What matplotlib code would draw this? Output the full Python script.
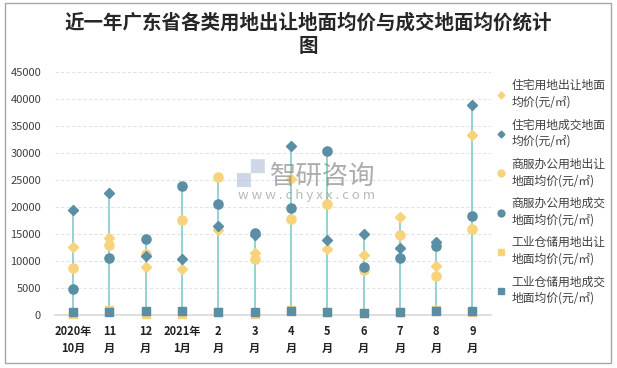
import matplotlib
matplotlib.use("Agg")
import matplotlib.pyplot as plt
from matplotlib.patches import Rectangle
import numpy as np

plt.rcParams['font.family'] = ['Noto Sans CJK SC', 'DejaVu Sans']

categories = ["2020年\n10月", "11\n月", "12\n月", "2021年\n1月", "2\n月", "3\n月",
              "4\n月", "5\n月", "6\n月", "7\n月", "8\n月", "9\n月"]
res_sale = [12600, 14400, 8900, 8600, 15800, 11600, 25200, 12300, 11200, 18200, 9100, 33400]
res_deal = [19500, 22700, 10900, 10400, 16600, 14800, 31400, 14000, 15100, 12500, 13600, 39000]
com_sale = [8800, 13000, 11300, 17600, 25600, 10400, 17800, 20600, 8300, 14800, 7200, 15900]
com_deal = [4800, 10700, 14100, 23900, 20700, 15200, 19800, 30400, 9000, 10600, 12900, 18300]
ind_sale = [300, 1000, 300, 300, 600, 200, 900, 700, 400, 600, 900, 600]
ind_deal = [700, 700, 750, 750, 600, 600, 750, 550, 500, 700, 750, 750]
labels = ["住宅用地出让地面\n均价(元/㎡)", "住宅用地成交地面\n均价(元/㎡)",
          "商服办公用地出让\n地面均价(元/㎡)", "商服办公用地成交\n地面均价(元/㎡)",
          "工业仓储用地出让\n地面均价(元/㎡)", "工业仓储用地成交\n地面均价(元/㎡)"]
yticks = [0, 5000, 10000, 15000, 20000, 25000, 30000, 35000, 40000, 45000]

YEL = "#F8D37B"
BLU = "#5A8EA4"
LINE = "#8DCFCF"

fig = plt.figure(figsize=(6.17, 3.68), dpi=100)
fig.patch.set_facecolor("white")
# outer border
fig.add_artist(Rectangle((5/617, 5/368), 606/617, 360/368, transform=fig.transFigure,
                         fill=False, edgecolor="#A6A6A6", linewidth=1.0))

ax = fig.add_axes([55/617, 1-315.3/368, 435.6/617, 243/368])
x = np.arange(len(categories))
allv = np.array([res_sale, res_deal, com_sale, com_deal, ind_sale, ind_deal])
ax.vlines(x, 0, allv.max(axis=0), color=LINE, linewidth=1.3, zorder=1)

ax.plot(x, ind_sale, ls="none", marker="s", ms=5.8, color=YEL, zorder=2, clip_on=False, label=labels[4])
ax.plot(x, ind_deal, ls="none", marker="s", ms=5.8, color=BLU, zorder=3, clip_on=False, label=labels[5])
ax.plot(x, com_sale, ls="none", marker="o", ms=6.6, color=YEL, zorder=4, label=labels[2])
ax.plot(x, com_deal, ls="none", marker="o", ms=6.6, color=BLU, zorder=5, label=labels[3])
ax.plot(x, res_sale, ls="none", marker="D", ms=4.6, color=YEL, zorder=6, label=labels[0])
ax.plot(x, res_deal, ls="none", marker="D", ms=4.6, color=BLU, zorder=7, label=labels[1])

ax.set_xlim(-0.5, len(categories) - 0.5)
ax.set_ylim(0, 45000)
ax.set_yticks(yticks)
ax.set_yticklabels([str(v) for v in yticks], fontsize=8, color="#404040")
ax.set_xticks(x)
ax.set_xticklabels(categories, fontsize=8, fontweight="bold", color="#222222", linespacing=1.4)
ax.tick_params(axis="both", length=0)
ax.tick_params(axis="y", pad=10)
ax.tick_params(axis="x", pad=7)
ax.grid(axis="y", color="#E3E3E3", linestyle=(0, (3, 2)), linewidth=0.8, zorder=0)
ax.set_axisbelow(True)
for s in ["top", "right", "left"]:
    ax.spines[s].set_visible(False)
ax.spines["bottom"].set_color("#D9D9D9")
ax.spines["bottom"].set_linewidth(1.2)

# watermark
fig.text(251/617, 1-176/368, "▞", fontsize=20, color="#B8C6DE", ha="center", va="center", alpha=0.7)
fig.text(323/617, 1-176/368, "智研咨询", fontsize=19, color="#8A8A8A", ha="center", va="center", alpha=0.7)
fig.text(307/617, 1-195/368, "w w w . c h y x x . c o m", fontsize=9.5, color="#9A9A9A",
         ha="center", va="center", alpha=0.7)

# title
fig.text(308/617, 1-23/368, "近一年广东省各类用地出让地面均价与成交地面均价统计", fontsize=14,
         ha="center", va="center", color="#262626", fontweight="bold")
fig.text(308/617, 1-46/368, "图", fontsize=14, ha="center", va="center", color="#262626", fontweight="bold")

# legend
h, l = ax.get_legend_handles_labels()
order = [4, 5, 2, 3, 0, 1]
hh = [h[order.index(i)] for i in range(6)]
ll = [l[order.index(i)] for i in range(6)]
leg = fig.legend(hh, ll, loc="upper left", bbox_to_anchor=(497/617, 1-79/368),
                 frameon=False, fontsize=8.5, labelspacing=0.83, handlelength=0.6,
                 handletextpad=0.6, markerscale=0.75, borderaxespad=0, borderpad=0)
for t in leg.get_texts():
    t.set_color("#404040")
    t.set_linespacing(1.35)

fig.savefig("out.png", dpi=100, facecolor="white")
